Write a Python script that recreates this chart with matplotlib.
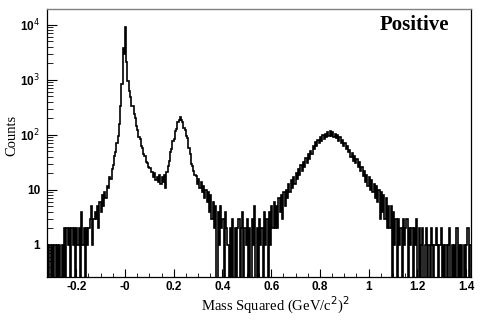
import numpy as np
import matplotlib
matplotlib.use("Agg")
import matplotlib.pyplot as plt
from matplotlib.ticker import FixedLocator, MultipleLocator, NullFormatter, FixedFormatter

# ---- data: counts per 0.005 (GeV/c^2)^2 bin, starting at -0.32 ----
bin_start = -0.32
bin_width = 0.005

seg01 = [1, 0, 1, 0, 1, 0, 1, 0, 1, 0, 1, 0, 1, 0, 2, 0, 2, 1, 2, 0]
seg02 = [2, 1, 2, 0, 2, 1, 2, 0, 4, 1, 2, 0, 2, 1, 2, 3, 5, 1, 3, 4]
seg03 = [3, 5, 2, 6, 4, 8, 5, 9, 7, 12, 11, 17, 16, 24, 28, 42, 48, 70, 95, 160]
seg04 = [330, 850, 3800, 3000, 9200, 2100, 950, 620, 480, 340,
         330, 240, 200, 145, 122, 92, 84, 63, 58, 44]
seg05 = [42, 32, 31, 26, 25, 21, 21, 17, 20, 15, 17, 14, 19, 13, 17, 14, 19, 11, 21, 27]
seg06 = [34, 49, 55, 77, 84, 118, 130, 175, 185, 215,
         190, 170, 135, 122, 96, 86, 58, 44, 30, 27]
seg07 = [22, 19, 18, 13, 16, 11, 14, 9, 12, 7, 10, 6, 9, 4, 8, 3, 6, 2, 5, 0]
seg08 = [4, 1, 5, 2, 3, 0, 4, 2, 1, 0, 2, 0, 3, 0, 2, 0, 2, 3, 0, 2]
seg09 = [4, 0, 2, 1, 3, 0, 2, 0, 3, 1, 5, 0, 2, 0, 3, 1, 2, 0, 4, 1]
seg10 = [3, 0, 4, 1, 5, 2, 6, 2, 5, 2, 7, 4, 8, 3, 9, 5, 10, 7, 13, 9]
seg11 = [15, 11, 17, 13, 20, 16, 24, 19, 28, 22, 32, 26, 38, 31, 45, 37, 52, 45, 62, 55]
seg12 = [74, 62, 82, 70, 90, 78, 100, 84, 106, 90, 112, 94, 116, 96, 112, 92, 106, 86, 98, 78]
seg13 = [90, 72, 80, 64, 70, 56, 62, 48, 54, 40, 46, 34, 42, 31, 37, 26, 32, 22, 26, 18]
seg14 = [22, 14, 19, 12, 17, 10, 15, 9, 13, 7, 12, 6, 10, 3, 9, 4, 8, 3, 7, 2]
seg15 = [5, 2, 5, 0, 4, 1, 3, 0, 3, 1, 2, 0, 3, 1, 2, 3, 0, 2, 1, 2]
seg16 = [0, 2, 1, 3, 0, 2, 0, 1, 2, 0, 1, 2, 0, 1, 0, 2, 1, 0, 1, 2]
seg17 = [1, 0, 1, 2, 0, 1, 0, 1, 0, 1, 2, 0, 1, 0, 1, 0, 2, 0, 1, 0,
         1, 0, 1, 0, 1, 2, 0, 1]

counts = np.array(seg01 + seg02 + seg03 + seg04 + seg05 + seg06 + seg07 + seg08 +
                  seg09 + seg10 + seg11 + seg12 + seg13 + seg14 + seg15 + seg16 + seg17,
                  dtype=float)
edges = bin_start + bin_width * np.arange(len(counts) + 1)

xticks = [-0.2, 0.0, 0.2, 0.4, 0.6, 0.8, 1.0, 1.2, 1.4]
xticklabels = ["-0.2", "-0", "0.2", "0.4", "0.6", "0.8", "1", "1.2", "1.4"]
yticks = [1, 10, 100, 1000, 10000]
yticklabels = ["1", "10", "10$^{2}$", "10$^{3}$", "10$^{4}$"]

# ---- figure ----
fig = plt.figure(figsize=(4.84, 3.21), dpi=100)
ax = fig.add_axes([47 / 484, 1 - 277 / 321, (471 - 47) / 484, (277 - 9) / 321])

plot_counts = np.where(counts > 0, counts, 1e-3)
ax.stairs(plot_counts, edges, baseline=None, color="black", linewidth=1.2)

ax.set_yscale("log")
ax.set_xlim(-0.32, 1.42)
ax.set_ylim(0.26, 1.95e4)

sans = "Liberation Sans"
serif = "Liberation Serif"

ax.xaxis.set_major_locator(FixedLocator(xticks))
ax.xaxis.set_major_formatter(FixedFormatter(xticklabels))
ax.xaxis.set_minor_locator(MultipleLocator(0.05))
ax.yaxis.set_major_locator(FixedLocator(yticks))
ax.yaxis.set_major_formatter(FixedFormatter(yticklabels))
ax.yaxis.set_minor_locator(matplotlib.ticker.LogLocator(base=10, subs=np.arange(2, 10)))
ax.yaxis.set_minor_formatter(NullFormatter())

ax.tick_params(axis="both", which="major", direction="in", length=7, width=0.8,
               top=False, right=False, labelsize=8.5, pad=5)
ax.tick_params(axis="both", which="minor", direction="in", length=4, width=0.6,
               top=False, right=False)
ax.tick_params(axis="x", which="major", length=6, pad=3)
ax.tick_params(axis="x", which="minor", length=3)
for lab in ax.get_xticklabels() + ax.get_yticklabels():
    lab.set_fontfamily(sans)
    lab.set_fontweight("bold")

for side in ["left", "bottom", "right"]:
    ax.spines[side].set_color("black")
    ax.spines[side].set_linewidth(0.9)
ax.spines["top"].set_color("#808080")
ax.spines["top"].set_linewidth(1.0)

fig.text(12 / 484, 1 - 135 / 321, "Counts", rotation=90, ha="center", va="center",
         fontsize=10.5, family=serif)
fig.text(275 / 484, 1 - 305 / 321, "Mass Squared (GeV/c$^{2}$)$^{2}$", ha="center",
         va="center", fontsize=10.5, family=serif)
fig.text(414 / 484, 1 - 25 / 321, "Positive", ha="center", va="center",
         fontsize=15, family=serif, fontweight="bold")

fig.savefig("out.png", dpi=100)
